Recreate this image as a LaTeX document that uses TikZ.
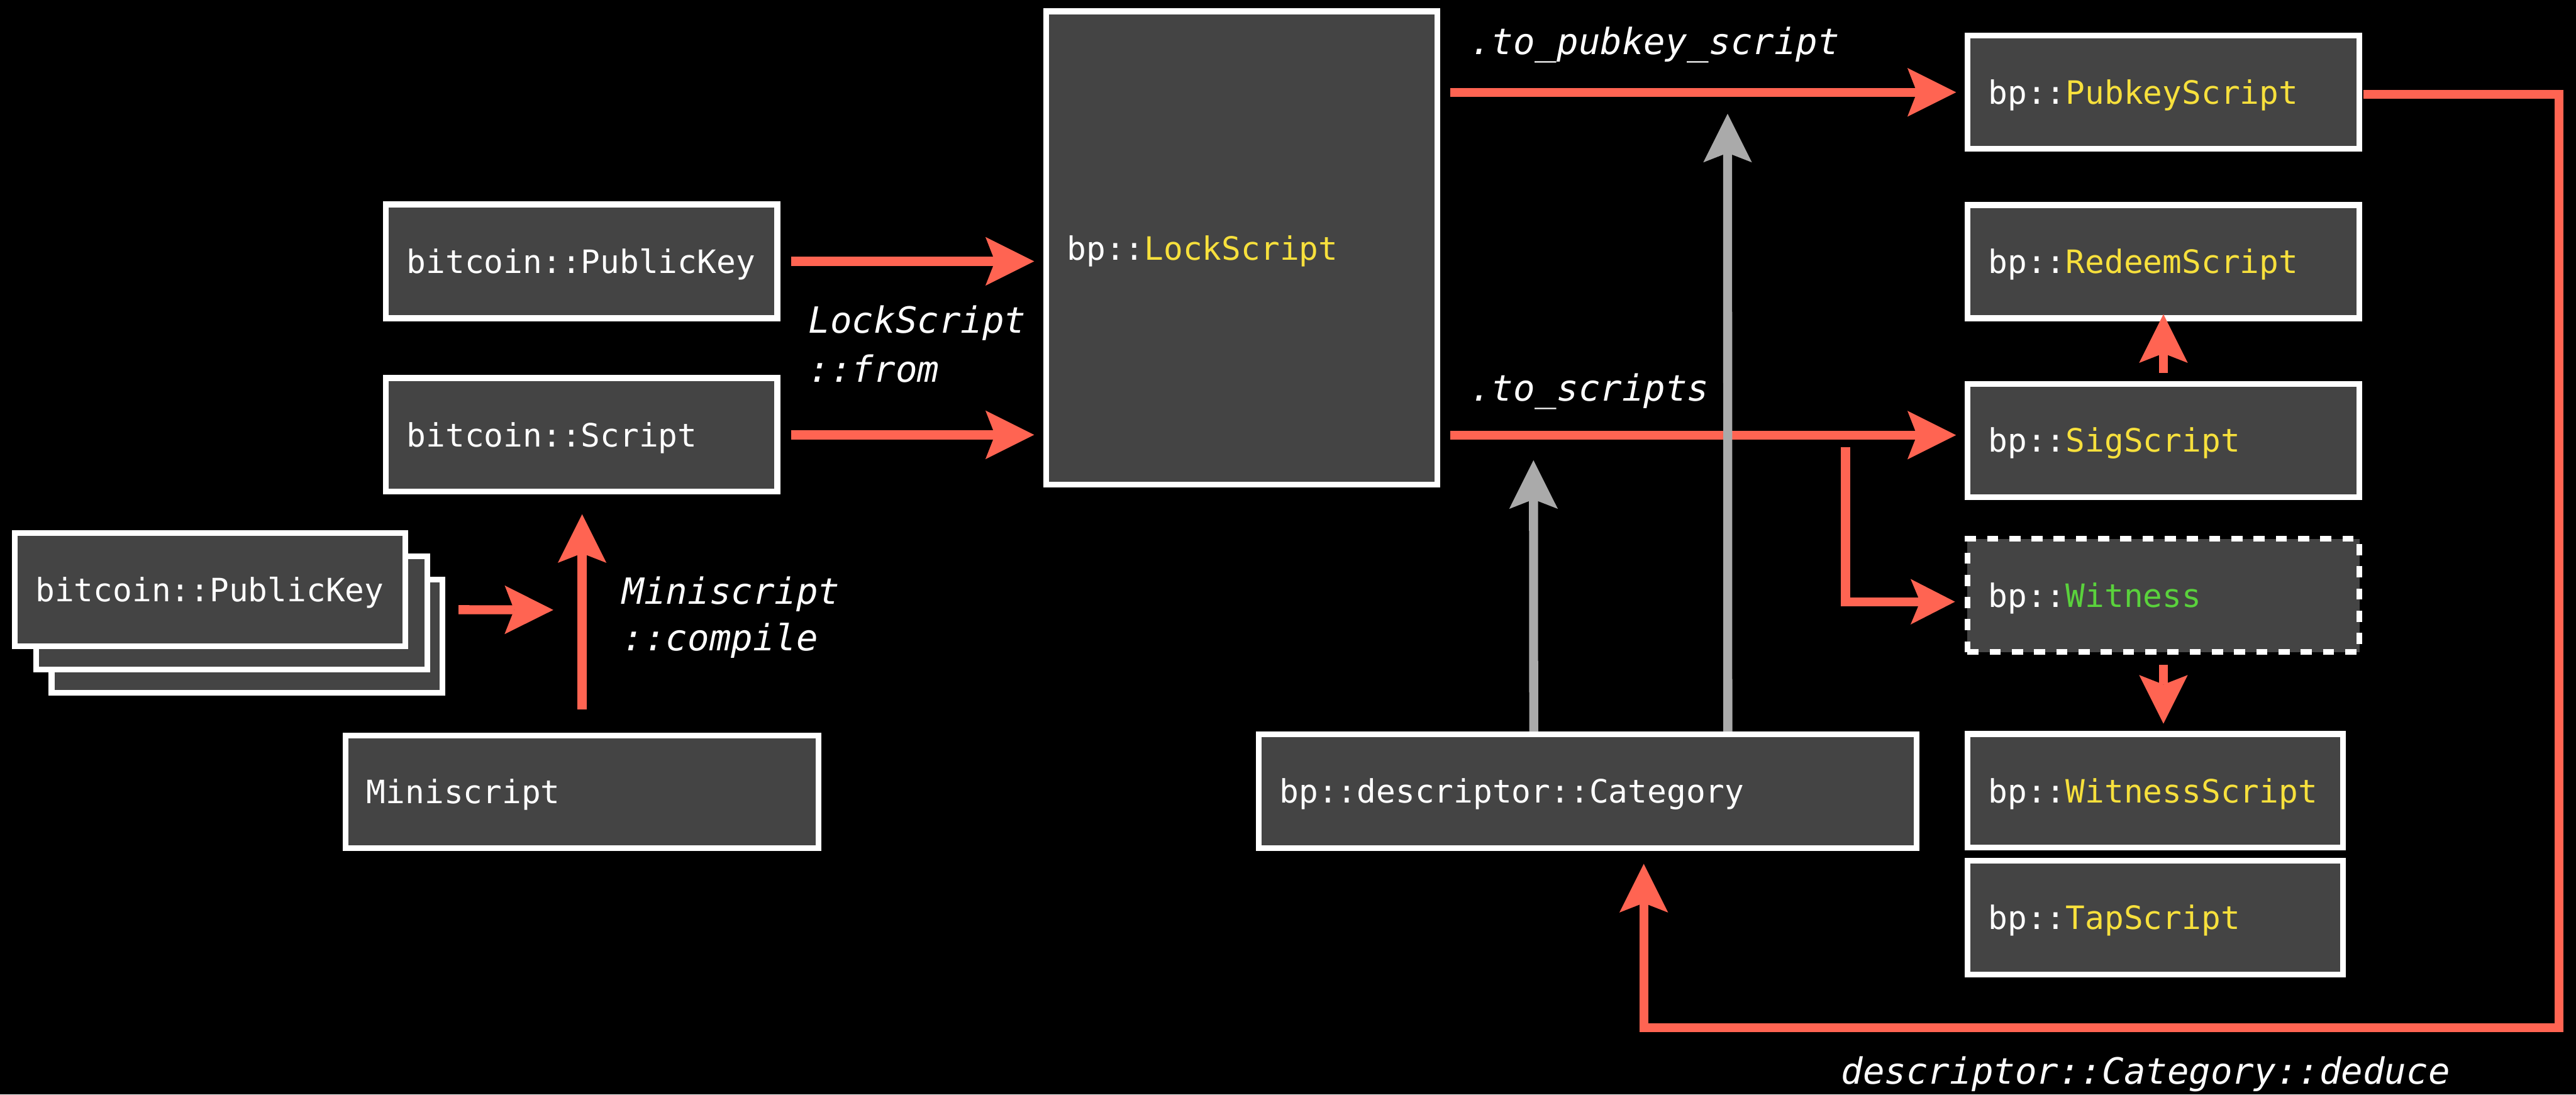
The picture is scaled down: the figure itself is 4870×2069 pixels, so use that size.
\documentclass[tikz,border=0pt]{standalone}
\usepackage{fontspec}
\setmonofont{DejaVu Sans Mono}
\newfontfamily\boxfont{DejaVu Sans Mono}
\newfontfamily\lblfont{DejaVu Sans Mono Oblique}
\usetikzlibrary{arrows.meta,calc}

\definecolor{bxfill}{HTML}{444444}
\definecolor{ared}{HTML}{FF6452}
\definecolor{agray}{HTML}{AAAAAA}
\definecolor{tyel}{HTML}{F7E03C}
\definecolor{tgrn}{HTML}{5AD23C}

\tikzset{
  cbox/.style={draw=white, line width=2.75pt, fill=bxfill, inner xsep=9.875pt,
    inner ysep=0pt, align=left, text=white,
    font=\boxfont\fontsize{15.2pt}{18pt}\selectfont,
    text height=11.08pt, text depth=0pt},
  dashbox/.style={dash pattern=on 5.25pt off 5.25pt},
  bigtip/.style={-{Stealth[length=23pt,width=23pt,inset=4.5pt,line width=0pt]}},
  smalltip/.style={-{Stealth[length=21pt,width=21.5pt,inset=4.5pt,line width=0pt]}},
  redarr/.style={draw=ared, line width=4.25pt, line join=miter, bigtip},
  grayarr/.style={draw=agray, line width=4.25pt, bigtip},
  lbl/.style={anchor=base west, inner sep=0pt, text=white,
    font=\lblfont\fontsize{17.07pt}{21pt}\selectfont},
}

% box from outer corner (x1,y1) to (x2,y2), in pixel units
\newcommand\cbox[7][]{%
  \pgfmathsetmacro\cbw{(#5-#3-11)*0.25}%
  \pgfmathsetmacro\cbh{(#6-#4-11)*0.25}%
  \pgfmathsetmacro\cbt{(#5-#3-90)*0.25}%
  \node[cbox,#1,minimum width=\cbw pt,minimum height=\cbh pt,text width=\cbt pt]
    (#2) at ({(#3+#5)/2},{(#4+#6)/2}) {#7};}

\newcommand\bp{bp::}

\begin{document}
\begin{tikzpicture}[x=0.25pt,y=-0.25pt]
  \fill[black] (0,0) rectangle (4870,2069);
  \useasboundingbox (0,0) rectangle (4870,2069);

  % stacked public keys
  \cbox{stkB}{92}{1090}{842}{1315}{}
  \cbox{stkM}{63}{1046}{813}{1271}{}
  \cbox{pkS}{22}{1002}{772}{1227}{bitcoin::PublicKey}

  % bitcoin inputs
  \cbox{pk1}{724}{381}{1475}{607}{bitcoin::PublicKey}
  \cbox{scr}{724}{709}{1475}{935}{bitcoin::Script}
  \cbox{mini}{648}{1385}{1553}{1609}{Miniscript}

  % lock script
  \cbox{lock}{1972}{16}{2723}{922}{\bp\textcolor{tyel}{LockScript}}

  % derived scripts
  \cbox{pub}{3714}{62}{4466}{287}{\bp\textcolor{tyel}{PubkeyScript}}
  \cbox{rdm}{3714}{382}{4466}{607}{\bp\textcolor{tyel}{RedeemScript}}
  \cbox{sig}{3714}{720}{4466}{945}{\bp\textcolor{tyel}{SigScript}}
  \cbox[dashbox]{wit}{3714}{1013}{4466}{1238}{\bp\textcolor{tgrn}{Witness}}
  \cbox{wsc}{3714}{1382}{4435}{1608}{\bp\textcolor{tyel}{WitnessScript}}
  \cbox{tap}{3714}{1622}{4435}{1848}{\bp\textcolor{tyel}{TapScript}}

  % descriptor category
  \cbox{cat}{2374}{1383}{3629}{1609}{bp::descriptor::Category}

  % free ends
  \coordinate (cmp) at (1046,1153);
  \coordinate (split) at (3489,845);
  \coordinate (g1end) at (2899,870);
  \coordinate (g2end) at (3266,215);

  % red connectors
  \draw[redarr] ($(pk1.east)+(21,0)$) -- ($(pk1.east -| lock.west)+(-17,0)$);
  \draw[redarr] ($(scr.east)+(21,0)$) -- ($(scr.east -| lock.west)+(-17,0)$);
  \draw[redarr] ($(stkM.east)+(54,-6)$) -- (cmp);
  \draw[redarr] ($(mini.north)+(0,-44)$) -- ($(mini.north |- scr.south)+(0,37)$);
  \draw[redarr] ($(lock.east |- pub.west)+(19,0)$) -- ($(pub.west)+(-16,0)$);
  \draw[redarr] ($(lock.east |- sig.west)+(19,-10)$) -- ($(sig.west)+(-16,-10)$);
  \draw[redarr,smalltip] (split) |- ($(wit.west)+(-18,12)$);
  \draw[redarr] ($(sig.north)+(0,-15)$) -- ($(rdm.south)+(0,-13)$);
  \draw[redarr] ($(wit.south)+(0,19)$) -- ($(wit.south |- wsc.north)+(0,-14)$);
  \draw[redarr] ($(pub.east)+(2,4)$) -- ++(370,0)
    |- ($(cat.south)+(106,334)$) -- ($(cat.south)+(106,24)$);

  % gray connectors
  \draw[grayarr] ($(cat.north)+(-102,0)$) -- (g1end);
  \draw[grayarr] ($(cat.north)+(265,0)$) -- (g2end);

  % labels
  \node[lbl] (ltopub) at (2778,103) {.to\_pubkey\_script};
  \node[lbl] (ltosc) at (2778,758) {.to\_scripts};
  \node[lbl] (lfromA) at (1528,630) {LockScript};
  \node[lbl] (lfromB) at (1528,722) {::from};
  \node[lbl] (lcompA) at (1176,1142) {Miniscript};
  \node[lbl] (lcompB) at (1176,1230) {::compile};
  \node[lbl] (lded) at (3480,2049) {descriptor::Category::deduce};
\end{tikzpicture}
\end{document}
